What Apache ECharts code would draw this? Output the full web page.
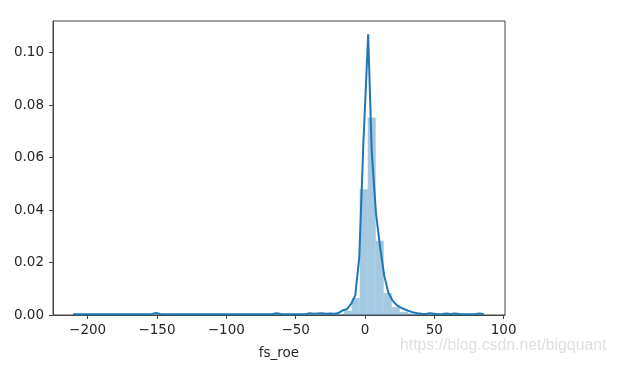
<!DOCTYPE html>
<html>
<head>
<meta charset="utf-8">
<script src="https://cdn.jsdelivr.net/npm/echarts@6/dist/echarts.min.js"></script>
<style>html,body{margin:0;padding:0;background:#fff}#c{width:617px;height:365px}</style>
</head>
<body>
<div id="c"></div>
<script>
// ---- data ----
var xTicks = [-200, -150, -100, -50, 0, 50, 100];
var yTicks = [0, 0.02, 0.04, 0.06, 0.08, 0.10];
var xLabel = 'fs_roe';

// histogram bins (density)
var histLo = [-206.1, -154.08, -67.38, -44.26, -38.48, -32.7, -26.92, -21.14, -15.36, -9.58, -3.8, 1.98, 7.76, 13.54, 19.32, 25.1, 30.88, 36.66, 42.44, 48.22, 54.0, 59.78, 77.12];
var histHi = [-200.32, -148.3, -61.6, -38.48, -32.7, -26.92, -21.14, -15.36, -9.58, -3.8, 1.98, 7.76, 13.54, 19.32, 25.1, 30.88, 36.66, 42.44, 48.22, 54.0, 59.78, 65.56, 82.9];
var histDensity = [0.0002, 0.0002, 0.0002, 0.0002, 0.0002, 0.0002, 0.0002, 0.0004, 0.0016, 0.0065, 0.0479, 0.0753, 0.0283, 0.0084, 0.0030, 0.0012, 0.0006, 0.0003, 0.0003, 0.0002, 0.0002, 0.0003, 0.0002];

// KDE curve
var kdeX = [-210.5,-207.5,-204.5,-201.5,-198.5,-195.5,-192.5,-189.6,-186.6,-183.6,-180.6,-177.6,-174.6,-171.6,-168.6,-165.6,-162.6,-159.6,-156.6,-153.6,-150.7,-147.7,-144.7,-141.7,-138.7,-135.7,-132.7,-129.7,-126.7,-123.7,-120.7,-117.7,-114.8,-111.8,-108.8,-105.8,-102.8,-99.8,-96.8,-93.8,-90.8,-87.8,-84.8,-81.8,-78.8,-75.9,-72.9,-69.9,-66.9,-63.9,-60.9,-57.9,-54.9,-51.9,-48.9,-45.9,-42.9,-40.0,-37.0,-34.0,-31.0,-28.0,-25.0,-22.0,-19.0,-16.0,-13.0,-10.0,-7.0,-4.1,-1.1,2.3,4.9,7.9,10.9,13.9,16.9,19.9,22.9,25.9,28.9,31.8,34.8,37.8,40.8,43.8,46.8,49.8,52.8,55.8,58.8,61.8,64.8,67.8,70.8,73.7,76.7,79.7,82.7,85.7];
var kdeY = [0.0003,0.0003,0.0003,0.0003,0.0003,0.0003,0.0003,0.0003,0.0003,0.0003,0.0003,0.0003,0.0003,0.0003,0.0003,0.0003,0.0003,0.0003,0.0003,0.0004,0.0008,0.0004,0.0003,0.0003,0.0003,0.0003,0.0003,0.0003,0.0003,0.0003,0.0003,0.0003,0.0003,0.0003,0.0003,0.0003,0.0003,0.0003,0.0003,0.0003,0.0003,0.0003,0.0003,0.0003,0.0003,0.0003,0.0003,0.0003,0.0003,0.0007,0.0004,0.0003,0.0003,0.0003,0.0003,0.0003,0.0003,0.0007,0.0005,0.0006,0.0007,0.0005,0.0006,0.0005,0.0008,0.0018,0.0022,0.0042,0.0075,0.022,0.066,0.107,0.062,0.039,0.026,0.015,0.0085,0.0055,0.0038,0.0028,0.0021,0.0015,0.0010,0.0007,0.0005,0.0004,0.0007,0.0005,0.0003,0.0004,0.0006,0.0004,0.0006,0.0004,0.0003,0.0003,0.0003,0.0004,0.0006,0.0003];

// ---- build ----
var histData = histLo.map(function (lo, i) { return [lo, histHi[i], histDensity[i]]; });
var kdeData = kdeX.map(function (x, i) { return [x, kdeY[i]]; });

var axisColor = '#444';
var textColor = '#262626';
var font = 'DejaVu Sans';
var fs = 13.5;

var chart = echarts.init(document.getElementById('c'), null, { renderer: 'canvas' });
chart.setOption({
  animation: false,
  backgroundColor: '#fff',
  grid: { left: 53, right: 112, top: 21, bottom: 50, show: true, borderColor: axisColor, borderWidth: 1, backgroundColor: 'transparent' },
  xAxis: {
    type: 'value', min: -225, max: 101,
    name: xLabel, nameLocation: 'middle', nameGap: 31,
    nameTextStyle: { color: textColor, fontFamily: font, fontSize: fs },
    axisLine: { show: true, onZero: false, lineStyle: { color: axisColor, width: 1 } },
    axisTick: { show: true, inside: false, length: 4, lineStyle: { color: axisColor }, customValues: xTicks },
    axisLabel: { color: textColor, fontFamily: font, fontSize: fs, margin: 8, customValues: xTicks,
      formatter: function (v) { return String(v).replace('-', '\u2212'); } },
    splitLine: { show: false }
  },
  yAxis: {
    type: 'value', min: 0, max: 0.1121,
    axisLine: { show: true, onZero: false, lineStyle: { color: axisColor, width: 1 } },
    axisTick: { show: true, inside: false, length: 4, lineStyle: { color: axisColor }, customValues: yTicks },
    axisLabel: { color: textColor, fontFamily: font, fontSize: fs, margin: 9, customValues: yTicks,
      formatter: function (v) { return v.toFixed(2); } },
    splitLine: { show: false }
  },
  graphic: [{
    type: 'text', left: 400, top: 338, silent: true,
    style: { text: 'https://blog.csdn.net/bigquant', fill: '#e0e0e0', font: '15.8px "Liberation Sans", Arial, sans-serif' }
  }],
  series: [
    {
      type: 'custom',
      data: histData,
      encode: { x: [0, 1], y: 2 },
      renderItem: function (params, api) {
        var p0 = api.coord([api.value(0), 0]);
        var p1 = api.coord([api.value(1), api.value(2)]);
        return {
          type: 'rect',
          shape: { x: p0[0], y: p1[1], width: p1[0] - p0[0], height: p0[1] - p1[1] },
          style: { fill: 'rgba(31,119,180,0.4)' }
        };
      },
      z: 1
    },
    {
      type: 'line',
      data: kdeData,
      showSymbol: false,
      symbol: 'none',
      lineStyle: { color: '#1f77b4', width: 2 },
      z: 2
    }
  ]
});
</script>
</body>
</html>
